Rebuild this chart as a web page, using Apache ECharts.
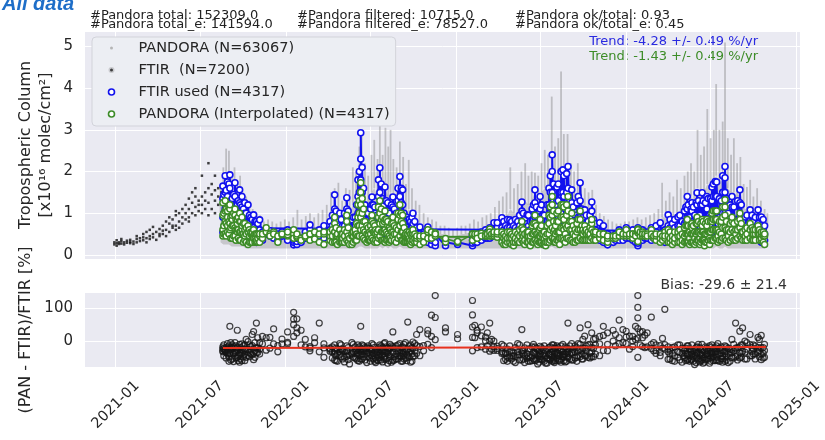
<!DOCTYPE html>
<html><head><meta charset="utf-8">
<script src="https://cdn.jsdelivr.net/npm/echarts@6/dist/echarts.min.js"></script>
<style>html,body{margin:0;padding:0;background:#fff}#c{width:825px;height:440px}</style>
</head><body><div id="c"></div>
<script>
// ---------------- DATA ----------------
const xTickLabels = ['2021-01','2021-07','2022-01','2022-07','2023-01','2023-07','2024-01','2024-07','2025-01'];
const yTicksTop = [0,1,2,3,4,5];
const yTicksBottom = [0,100];

// FTIR (all retrievals, black dots) before the Pandora period
const ftirDates = ['2020-12-29','2020-12-29','2021-01-03','2021-01-03','2021-01-03','2021-01-08','2021-01-08','2021-01-13','2021-01-13','2021-01-13','2021-01-19','2021-01-19','2021-01-25','2021-01-25','2021-02-01','2021-02-01','2021-02-01','2021-02-08','2021-02-08','2021-02-15','2021-02-15','2021-02-15','2021-02-22','2021-02-22','2021-03-01','2021-03-01','2021-03-01','2021-03-08','2021-03-08','2021-03-08','2021-03-15','2021-03-15','2021-03-15','2021-03-22','2021-03-22','2021-03-22','2021-03-29','2021-03-29','2021-04-05','2021-04-05','2021-04-05','2021-04-12','2021-04-12','2021-04-12','2021-04-19','2021-04-19','2021-04-19','2021-04-26','2021-04-26','2021-04-26','2021-05-03','2021-05-03','2021-05-03','2021-05-10','2021-05-10','2021-05-10','2021-05-10','2021-05-17','2021-05-17','2021-05-17','2021-05-24','2021-05-24','2021-05-24','2021-05-31','2021-05-31','2021-05-31','2021-06-07','2021-06-07','2021-06-07','2021-06-07','2021-06-14','2021-06-14','2021-06-14','2021-06-21','2021-06-21','2021-06-21','2021-06-21','2021-06-28','2021-06-28','2021-06-28','2021-07-05','2021-07-05','2021-07-05','2021-07-05','2021-07-12','2021-07-12','2021-07-12','2021-07-19','2021-07-19','2021-07-19','2021-07-19','2021-07-26','2021-07-26','2021-07-26','2021-08-02','2021-08-02','2021-08-02','2021-08-02','2021-08-09','2021-08-09','2021-08-09','2021-08-16','2021-08-16'];
const ftirVals = [0.25,0.3,0.28,0.35,0.22,0.3,0.26,0.33,0.27,0.38,0.3,0.25,0.34,0.29,0.28,0.36,0.31,0.32,0.26,0.38,0.3,0.45,0.33,0.4,0.35,0.5,0.42,0.4,0.3,0.55,0.45,0.6,0.38,0.5,0.67,0.42,0.36,0.55,0.45,0.62,0.5,0.5,0.7,0.58,0.6,0.8,0.45,0.55,0.75,0.9,0.65,0.85,0.7,0.7,0.95,0.6,1.05,0.8,0.65,1.0,0.75,0.9,1.1,0.85,1.2,1.0,0.9,1.1,1.35,0.8,1.0,1.25,1.5,0.95,1.15,1.4,1.6,1.05,1.3,1.2,1.0,1.4,1.9,1.2,1.1,1.3,1.5,0.95,1.25,2.2,1.6,1.1,1.45,1.7,1.0,1.3,1.55,1.9,1.2,1.4,1.6,1.0,1.5];

// PANDORA (all measurements) envelope: low, dense upper part, extreme high
const pandoraDates = ['2021-08-14','2021-08-20','2021-08-26','2021-09-01','2021-09-07','2021-09-13','2021-09-19','2021-09-25','2021-10-01','2021-10-08','2021-10-15','2021-10-22','2021-10-30','2021-11-07','2021-11-15','2021-11-24','2021-12-03','2021-12-12','2021-12-21','2021-12-30','2022-01-08','2022-01-17','2022-01-26','2022-02-04','2022-02-13','2022-02-22','2022-03-03','2022-03-12','2022-03-21','2022-03-30','2022-04-08','2022-04-16','2022-04-24','2022-05-02','2022-05-10','2022-05-18','2022-05-25','2022-06-01','2022-06-08','2022-06-13','2022-06-20','2022-06-27','2022-07-04','2022-07-10','2022-07-17','2022-07-22','2022-07-28','2022-08-03','2022-08-09','2022-08-14','2022-08-20','2022-08-27','2022-09-03','2022-09-10','2022-09-16','2022-09-22','2022-09-29','2022-10-07','2022-10-15','2022-10-24','2022-11-02','2022-11-11','2022-11-20','2022-11-29','2022-12-08','2022-12-17','2022-12-26','2023-01-04','2023-01-13','2023-01-22','2023-01-31','2023-02-09','2023-02-18','2023-02-27','2023-03-08','2023-03-17','2023-03-26','2023-04-04','2023-04-12','2023-04-20','2023-04-28','2023-05-06','2023-05-14','2023-05-22','2023-05-30','2023-06-06','2023-06-13','2023-06-20','2023-06-27','2023-07-04','2023-07-11','2023-07-18','2023-07-26','2023-08-02','2023-08-09','2023-08-15','2023-08-21','2023-08-29','2023-09-05','2023-09-12','2023-09-20','2023-09-27','2023-10-05','2023-10-13','2023-10-21','2023-10-29','2023-11-06','2023-11-15','2023-11-24','2023-12-03','2023-12-12','2023-12-21','2023-12-30','2024-01-08','2024-01-17','2024-01-26','2024-02-04','2024-02-13','2024-02-22','2024-03-02','2024-03-11','2024-03-19','2024-03-27','2024-04-04','2024-04-12','2024-04-20','2024-04-28','2024-05-06','2024-05-13','2024-05-20','2024-05-27','2024-06-03','2024-06-10','2024-06-17','2024-06-24','2024-07-01','2024-07-08','2024-07-13','2024-07-20','2024-07-27','2024-08-01','2024-08-07','2024-08-14','2024-08-20','2024-08-27','2024-09-03','2024-09-10','2024-09-17','2024-09-24','2024-10-01','2024-10-09','2024-10-17','2024-10-25','2024-10-31'];
const pandoraLow = [0.3,0.25,0.25,0.25,0.2,0.2,0.2,0.2,0.2,0.15,0.15,0.15,0.15,0.15,0.15,0.15,0.15,0.15,0.15,0.15,0.15,0.15,0.15,0.15,0.15,0.15,0.15,0.15,0.15,0.15,0.15,0.15,0.15,0.15,0.15,0.15,0.15,0.15,0.2,0.2,0.15,0.15,0.15,0.15,0.15,0.2,0.15,0.2,0.15,0.2,0.15,0.15,0.2,0.15,0.15,0.15,0.15,0.15,0.15,0.15,0.15,0.15,0.15,0.15,0.15,0.15,0.15,0.15,0.15,0.15,0.15,0.15,0.15,0.15,0.15,0.15,0.15,0.15,0.15,0.15,0.15,0.15,0.15,0.15,0.15,0.15,0.15,0.15,0.15,0.15,0.15,0.15,0.2,0.15,0.15,0.2,0.15,0.15,0.15,0.15,0.15,0.15,0.15,0.15,0.15,0.15,0.15,0.15,0.15,0.15,0.15,0.15,0.15,0.15,0.15,0.15,0.15,0.15,0.15,0.15,0.15,0.15,0.15,0.15,0.15,0.15,0.15,0.15,0.15,0.15,0.15,0.15,0.15,0.15,0.2,0.15,0.15,0.2,0.15,0.15,0.2,0.15,0.15,0.15,0.15,0.15,0.15,0.15,0.15,0.15,0.15,0.15,0.15,0.2];
const pandoraCore = [1.0,1.4,1.6,1.7,1.3,1.5,1.1,1.3,1.1,1.0,0.9,0.8,0.7,0.7,0.6,0.6,0.6,0.55,0.6,0.6,0.6,0.65,0.7,0.6,0.65,0.7,0.65,0.7,0.75,0.8,1.0,1.1,1.1,0.9,1.1,1.0,1.2,1.3,1.8,2.0,1.3,1.2,1.5,1.6,1.4,1.7,1.4,1.6,1.4,1.5,1.3,1.3,1.5,1.4,1.0,1.1,1.0,0.8,0.75,0.65,0.6,0.55,0.55,0.5,0.5,0.45,0.45,0.45,0.5,0.5,0.55,0.6,0.6,0.65,0.65,0.7,0.8,0.85,0.9,0.9,1.1,1.0,1.0,1.2,1.3,1.2,1.3,1.5,1.3,1.5,1.6,1.6,2.0,1.6,1.7,2.0,1.8,1.8,1.6,1.4,1.4,1.4,1.1,1.0,1.1,0.85,0.75,0.7,0.6,0.55,0.55,0.55,0.55,0.6,0.6,0.65,0.6,0.65,0.7,0.7,0.75,0.9,0.9,1.0,0.95,1.0,1.0,1.2,1.4,1.4,1.3,1.6,1.5,1.5,1.7,1.6,1.7,1.9,1.7,1.8,2.1,1.6,1.5,1.5,1.4,1.5,1.1,1.1,1.2,1.0,1.1,0.9,0.8,0.7];
const pandoraHigh = [1.6,2.1,2.55,2.5,2.0,2.1,1.7,1.9,1.5,1.4,1.3,1.1,1.0,0.95,0.8,0.85,0.8,0.75,0.8,0.85,0.8,0.9,1.08,0.85,0.93,1.0,0.9,1.0,1.08,1.2,1.5,1.6,1.73,1.3,1.6,1.56,2.1,2.0,2.6,3.0,2.2,1.9,2.4,2.76,2.3,3.25,2.4,3.05,2.6,3.0,2.3,2.1,2.72,2.35,1.7,2.28,1.6,1.3,1.2,1.0,0.9,0.85,0.8,0.7,0.7,0.65,0.6,0.65,0.7,0.7,0.75,0.85,0.8,0.9,0.95,1.0,1.15,1.3,1.4,1.5,2.1,1.6,1.7,2.0,2.2,1.9,2.0,1.97,1.9,2.2,2.52,2.4,3.8,2.6,2.8,4.4,2.9,2.9,2.2,2.0,2.2,1.8,1.6,1.5,1.56,1.2,1.0,0.93,0.85,0.8,0.75,0.75,0.8,0.8,0.85,0.9,0.85,0.9,0.95,1.0,1.1,1.73,1.3,1.5,1.4,1.8,1.6,1.9,2.0,2.2,2.0,3.0,2.4,2.6,3.5,2.8,3.0,4.1,3.0,3.2,5.1,2.8,2.4,2.8,2.2,2.35,1.7,1.63,1.8,1.4,1.6,1.3,1.1,1.0];

// FTIR used / PANDORA interpolated / relative difference, per observation day
const usedDates = ['2021-08-19','2021-08-24','2021-08-29','2021-09-03','2021-09-08','2021-09-14','2021-09-19','2021-09-24','2021-09-29','2021-10-05','2021-10-12','2021-10-18','2021-10-24','2021-10-30','2021-11-06','2021-11-12','2021-11-20','2021-11-28','2021-12-06','2021-12-15','2021-12-24','2022-01-05','2022-01-18','2022-01-25','2022-02-03','2022-02-12','2022-02-22','2022-03-04','2022-03-14','2022-03-24','2022-04-06','2022-04-16','2022-04-22','2022-04-27','2022-05-03','2022-05-12','2022-05-18','2022-05-23','2022-05-30','2022-06-05','2022-06-11','2022-06-17','2022-06-24','2022-06-30','2022-07-05','2022-07-11','2022-07-16','2022-07-22','2022-07-28','2022-08-02','2022-08-08','2022-08-13','2022-08-19','2022-08-26','2022-09-03','2022-09-09','2022-09-15','2022-09-20','2022-09-26','2022-10-01','2022-10-09','2022-10-16','2022-10-24','2022-11-02','2022-11-10','2022-11-18','2022-12-10','2023-01-05','2023-02-06','2023-02-16','2023-02-25','2023-03-06','2023-03-15','2023-03-24','2023-03-31','2023-04-10','2023-04-18','2023-04-27','2023-05-05','2023-05-14','2023-05-23','2023-05-29','2023-06-03','2023-06-10','2023-06-20','2023-06-26','2023-07-01','2023-07-07','2023-07-13','2023-07-20','2023-07-27','2023-08-01','2023-08-06','2023-08-12','2023-08-19','2023-08-24','2023-08-30','2023-09-07','2023-09-14','2023-09-25','2023-10-01','2023-10-05','2023-10-12','2023-10-20','2023-10-28','2023-11-06','2023-11-14','2023-11-23','2023-12-05','2023-12-18','2024-01-02','2024-01-16','2024-01-27','2024-02-06','2024-02-16','2024-02-25','2024-03-06','2024-03-15','2024-03-25','2024-04-01','2024-04-10','2024-04-22','2024-05-01','2024-05-12','2024-05-17','2024-05-22','2024-05-28','2024-06-02','2024-06-08','2024-06-13','2024-06-18','2024-06-23','2024-06-29','2024-07-04','2024-07-11','2024-07-17','2024-07-24','2024-08-01','2024-08-08','2024-08-16','2024-08-24','2024-09-02','2024-09-08','2024-09-13','2024-09-24','2024-10-01','2024-10-11','2024-10-18','2024-10-25'];
const ftirUsed = [[0.55,0.9,1.35,1.65],[0.7,1.1,1.5,1.9],[0.6,0.95,1.4,1.75],[0.75,1.2,1.6,1.92],[0.5,0.8,1.1,1.35],[0.65,1.0,1.4,1.73],[0.45,0.7,0.95,1.2],[0.6,0.95,1.25,1.56],[0.55,0.85,1.15,1.4],[0.4,0.7,1.0,1.25],[0.45,0.75,1.2],[0.4,0.6,0.9],[0.35,0.65,0.96],[0.3,0.55,0.8],[0.4,0.6,0.84],[0.35,0.55],[0.5,0.6],[0.45,0.58],[0.4,0.55],[0.35,0.5],[0.45,0.55],[0.35,0.5,0.6],[0.24,0.3,0.35,0.4],[0.25,0.32,0.4],[0.3,0.4],[0.4,0.55],[0.45,0.6,0.72],[0.4,0.5],[0.45,0.6],[0.4,0.55,0.7],[0.45,0.6,0.8],[0.5,0.8,1.1,1.44],[0.4,0.6,0.8],[0.45,0.7,1.0],[0.4,0.55,0.7],[0.5,0.8,1.1,1.37],[0.45,0.65],[0.4,0.6,0.84],[0.5,0.7,0.9],[0.6,1.0,1.4,1.8],[0.8,1.3,1.8,2.3,2.93],[0.55,0.85,1.2,1.6],[0.5,0.8,1.08],[0.45,0.65,0.85],[0.55,0.9,1.2,1.39],[0.5,0.8,1.15],[0.45,0.7,0.95],[0.6,1.0,1.5,2.09],[0.5,0.8,1.1,1.35],[0.55,0.9,1.3,1.63],[0.5,0.8,1.05,1.25],[0.45,0.65,0.85],[0.55,0.85,1.15,1.39],[0.5,0.75,1.0],[0.6,0.95,1.4,1.88],[0.5,0.85,1.2,1.56],[0.45,0.65,0.85],[0.4,0.6,0.84],[0.35,0.55,0.8],[0.45,0.75,1.0],[0.35,0.5,0.65],[0.3,0.5,0.67],[0.35,0.5],[0.3,0.45,0.67],[0.25,0.35,0.5],[0.22,0.3,0.48],[0.22,0.3],[0.25,0.3],[0.22,0.28,0.35,0.45,0.5],[0.3,0.4,0.5],[0.35,0.45,0.55],[0.4,0.5,0.6],[0.4,0.55,0.65],[0.45,0.6,0.77],[0.5,0.65,0.77],[0.45,0.65,0.89],[0.4,0.55,0.7],[0.45,0.65,0.84],[0.4,0.55,0.7],[0.45,0.6,0.8],[0.5,0.8,1.05,1.27],[0.45,0.65,0.85],[0.5,0.75,0.96],[0.45,0.6,0.8],[0.55,0.9,1.25,1.56],[0.45,0.65,0.9],[0.5,0.8,1.1,1.4],[0.45,0.7,0.96],[0.4,0.6,0.8],[0.5,0.8,1.2,1.6],[0.6,1.0,1.5,2.0,2.4],[0.5,0.75,1.0],[0.55,0.9,1.3,1.63],[0.45,0.7,0.95],[0.6,1.0,1.5,2.04],[0.5,0.8,1.1],[0.6,1.0,1.6,2.12],[0.55,0.9,1.25,1.56],[0.45,0.7,0.95],[0.55,0.9,1.3,1.73],[0.45,0.7,0.9],[0.45,0.75,1.08],[0.4,0.6,0.8],[0.5,0.8,1.05,1.27],[0.4,0.6,0.75],[0.35,0.55,0.77],[0.3,0.45,0.7],[0.24,0.35,0.5],[0.3,0.45],[0.35,0.5,0.6],[0.4,0.5,0.65],[0.35,0.5,0.6],[0.22,0.28,0.35,0.45,0.55,0.65],[0.35,0.5,0.6],[0.4,0.55],[0.35,0.5,0.65],[0.4,0.55,0.7],[0.35,0.5,0.77],[0.3,0.45,0.6],[0.45,0.7,0.96],[0.4,0.55,0.75],[0.45,0.7,0.91],[0.4,0.6,0.8],[0.5,0.8,1.1,1.4],[0.45,0.65,0.9],[0.5,0.8,1.05,1.25],[0.45,0.7,0.95],[0.55,0.85,1.2,1.49],[0.45,0.7,0.95],[0.55,0.85,1.2,1.49],[0.45,0.65,0.85],[0.5,0.8,1.1,1.4],[0.45,0.7,0.95],[0.55,0.9,1.3,1.63],[0.6,0.95,1.4,1.76],[0.5,0.75,1.0],[0.5,0.8,1.1,1.3],[0.6,1.0,1.5,1.85,2.12],[0.5,0.75,1.0],[0.55,0.85,1.15,1.4],[0.45,0.65,0.85],[0.55,0.9,1.25,1.56],[0.4,0.6,0.8],[0.35,0.6,0.91],[0.45,0.75,1.08],[0.4,0.6,0.8],[0.45,0.75,1.08],[0.3,0.5,0.7,0.91],[0.35,0.5,0.7]];
const pandoraInterp = [[0.45,0.6,0.95,1.25],[0.5,0.8,1.05,1.3],[0.55,0.7,0.9,1.05],[0.6,0.75,1.1,1.2],[0.4,0.7,0.85,0.95],[0.45,0.65,0.95,1.1],[0.6,0.55,0.75,0.85],[0.35,0.55,0.8,1.0],[0.5,0.62,0.7,0.9],[0.35,0.45,0.6,0.75],[0.25,0.55,0.7],[0.3,0.5,0.55],[0.45,0.4,0.6],[0.3,0.35,0.5],[0.3,0.45,0.5],[0.4,0.5],[0.55,0.65],[0.5,0.45],[0.55,0.5],[0.3,0.45],[0.48,0.5],[0.45,0.48,0.55],[0.45,0.5,0.4,0.6],[0.42,0.45,0.5],[0.4,0.35],[0.42,0.45],[0.35,0.5,0.5],[0.38,0.55],[0.3,0.5],[0.25,0.5,0.55],[0.35,0.45,0.55],[0.3,0.55,0.75,0.9],[0.25,0.45,0.5],[0.3,0.4,0.6],[0.3,0.4,0.5],[0.35,0.55,0.8,0.95],[0.25,0.4],[0.25,0.45,0.5],[0.35,0.5,0.6],[0.45,0.7,0.9,1.2],[0.6,0.9,1.2,1.5,1.73],[0.4,0.6,0.8,1.1],[0.3,0.5,0.7],[0.35,0.4,0.55],[0.4,0.6,0.8,0.95],[0.3,0.55,0.7],[0.3,0.45,0.55],[0.45,0.75,1.0,1.3],[0.35,0.55,0.75,0.9],[0.3,0.6,0.85,1.05],[0.35,0.5,0.7,0.8],[0.35,0.4,0.6],[0.45,0.55,0.75,0.9],[0.3,0.5,0.65],[0.45,0.7,0.95,1.2],[0.35,0.55,0.75,0.95],[0.3,0.45,0.5],[0.3,0.45,0.5],[0.25,0.35,0.5],[0.35,0.5,0.6],[0.3,0.4,0.45],[0.25,0.4,0.45],[0.3,0.45],[0.4,0.55,0.6],[0.45,0.4,0.55],[0.53,0.45,0.5],[0.31,0.39],[0.3,0.32],[0.49,0.5,0.5,0.5,0.35],[0.4,0.5,0.4],[0.5,0.52,0.45],[0.45,0.5,0.45],[0.62,0.55,0.45],[0.45,0.5,0.55],[0.42,0.5,0.55],[0.3,0.45,0.55],[0.25,0.35,0.45],[0.3,0.4,0.55],[0.22,0.3,0.45],[0.3,0.35,0.5],[0.35,0.5,0.65,0.8],[0.25,0.35,0.5],[0.3,0.45,0.55],[0.22,0.35,0.45],[0.35,0.55,0.75,0.95],[0.25,0.35,0.5],[0.3,0.45,0.65,0.85],[0.25,0.4,0.5],[0.22,0.3,0.45],[0.3,0.5,0.75,0.95],[0.4,0.65,0.95,1.2,1.4],[0.3,0.4,0.6],[0.35,0.55,0.8,1.0],[0.25,0.4,0.55],[0.4,0.65,0.9,1.2],[0.3,0.5,0.7],[0.4,0.7,1.05,1.4],[0.35,0.6,0.8,1.0],[0.3,0.45,0.6],[0.4,0.6,0.85,1.05],[0.35,0.5,0.6],[0.35,0.55,0.7],[0.35,0.5,0.55],[0.4,0.6,0.75,0.85],[0.35,0.5,0.55],[0.4,0.5,0.5],[0.35,0.5,0.5],[0.3,0.4,0.45],[0.4,0.45],[0.45,0.55,0.55],[0.45,0.5,0.6],[0.4,0.5,0.5],[0.53,0.57,0.6,0.62,0.6,0.32],[0.45,0.55,0.5],[0.5,0.45],[0.6,0.45,0.5],[0.35,0.45,0.5],[0.3,0.4,0.5],[0.55,0.4,0.45],[0.3,0.45,0.6],[0.25,0.35,0.45],[0.3,0.45,0.55],[0.25,0.35,0.5],[0.3,0.5,0.7,0.85],[0.25,0.4,0.55],[0.3,0.5,0.65,0.75],[0.25,0.4,0.55],[0.35,0.55,0.75,0.9],[0.25,0.4,0.55],[0.35,0.55,0.7,0.85],[0.22,0.35,0.5],[0.3,0.5,0.7,0.85],[0.25,0.4,0.55],[0.35,0.6,0.8,1.0],[0.4,0.6,0.85,1.05],[0.3,0.45,0.6],[0.35,0.5,0.7,0.8],[0.4,0.65,0.95,1.15,1.32],[0.3,0.45,0.6],[0.4,0.6,0.8,0.9],[0.35,0.5,0.6],[0.45,0.65,0.85,1.0],[0.35,0.5,0.55],[0.35,0.45,0.6],[0.4,0.6,0.75],[0.35,0.5,0.6],[0.5,0.6,0.7],[0.35,0.4,0.5,0.55],[0.25,0.45,0.5]];
const relDiff = [[-18,-33,-30,-24],[-29,-27,-30,-32],[-8,-26,-36,-40],[-20,-38,45,-38],[-20,-12,-23,-55],[-31,-35,-5,-36],[33,-21,-50,-29],[-42,-65,-36,-10],[-9,-27,-60,-36],[-12,-60,-40,-25],[-44,-27,-2],[-25,-17,-39],[29,-38,-57],[55,-36,-20],[-25,-5,-40],[14,-9],[10,-28],[11,-22],[37,-9],[-14,-33],[6,-9],[28,-4,-8],[88,67,14,50],[68,40,25],[33,-12],[5,-18],[-22,-17,-30],[-5,10],[-33,55],[-50,-9,-21],[-22,-25,-31],[-40,-31,-12,-58],[-38,-25,-62],[-33,-43,-8],[-25,-55,-29],[-30,-15,-47,-31],[-44,-70],[-38,-5,-40],[-30,-52,-18],[-25,-60,-36,-12],[-25,45,-33,-55,-41],[-27,-48,-15,-31],[-40,-66,-20],[-22,-38,-52],[-27,-8,-45,-32],[-40,-62,-19],[-33,-58,-42],[-25,-12,-50,-38],[-30,-64,-20,-43],[-45,-33,-5,-56],[-30,-68,-22,-36],[-22,-48,-10],[28,-35,-60,-18],[-40,-15,-55],[-25,-46,-8,-36],[-30,-62,-18,-39],[-33,-5,-52],[-25,58,-45],[-29,-65,-12],[-22,-48,-3],[-14,-38,20],[-17,-45,35],[-14,-30],[33,22,-10],[79,14,-20],[139,72,4],[40,28],[20,7],[124,80,43,11,-30],[33,25,-20],[43,16,-18],[12,0,-25],[55,0,-31],[0,-17,-29],[-16,-23,-29],[-33,-10,-38],[-38,-56,-36],[-33,-15,-52],[-45,-62,-36],[-33,-42,-8],[-30,-58,35,-37],[-44,-66,-21],[-40,-12,-53],[-51,-62,-24],[-36,-60,-18,-39],[-44,-70,-27],[-40,-55,-16,-39],[-44,-25,-58],[-45,-68,-30],[-40,-20,-55,-41],[-33,-50,-12,-62,-42],[-40,-66,-22],[-36,-15,-52,-39],[-44,-60,-28],[-33,-48,-10,-41],[-40,-64,-18],[-33,55,-50,-25],[-36,-58,-8,-36],[-33,-52,-15],[-27,40,-48,-10],[-22,-55,5],[-22,-45,15],[-12,50,-50],[-20,-48,25,-33],[-12,-40,8],[14,-9,-45],[17,45,-29],[25,-30,-10],[33,0],[64,10,-8],[12,30,-8],[14,0,-17],[139,103,71,38,9,-50],[29,10,-17],[25,-18],[73,-10,-23],[-12,-38,-29],[-14,-45,-35],[97,-11,-25],[-33,-56,-18],[-38,-60,-20],[-33,-12,-50],[-38,-65,-22],[-40,-58,-15,-39],[-44,-25,-62],[-40,-55,-12,-40],[-44,-72,-28],[-36,-52,-18,-40],[-44,-64,-20],[-36,-10,-58,-43],[-51,-65,-30],[-40,-22,-56,-39],[-44,-68,-15],[-36,-50,-12,-39],[-33,-60,-20,-40],[-40,-60,-8],[-30,-54,-18,-38],[-33,-62,-15,-48,-38],[-40,-66,-22],[-27,5,-50,-36],[-22,55,-48],[-18,30,-52,-36],[-12,40,-31],[0,-55,-34],[-11,20,-45],[-12,-40,-25],[11,-20,-35],[17,-20,-57,-40],[-29,-10,-50]];

// additional observation days (same layout as above)
const extraDates = ['2021-08-21','2021-08-26','2021-09-01','2021-09-05','2021-09-11','2021-09-16','2021-09-21','2021-09-26','2021-10-02','2021-10-08','2021-10-15','2021-10-21','2021-10-27','2021-11-02','2022-04-11','2022-04-19','2022-04-30','2022-05-07','2022-05-15','2022-05-26','2022-06-02','2022-06-08','2022-06-14','2022-06-20','2022-06-27','2022-07-02','2022-07-08','2022-07-13','2022-07-19','2022-07-25','2022-07-31','2022-08-05','2022-08-11','2022-08-16','2022-08-22','2022-08-30','2022-09-06','2022-09-12','2022-09-18','2022-09-23','2022-09-29','2022-10-05','2023-04-14','2023-04-22','2023-05-01','2023-05-09','2023-05-18','2023-05-26','2023-06-06','2023-06-14','2023-06-17','2023-06-23','2023-06-29','2023-07-04','2023-07-10','2023-07-16','2023-07-23','2023-07-30','2023-08-03','2023-08-09','2023-08-15','2023-08-21','2023-08-27','2023-09-03','2023-09-10','2023-09-18','2023-09-21','2023-09-29','2023-10-08','2023-10-16','2023-10-24','2024-04-05','2024-04-15','2024-04-26','2024-05-06','2024-05-09','2024-05-14','2024-05-20','2024-05-25','2024-05-31','2024-06-05','2024-06-10','2024-06-15','2024-06-20','2024-06-26','2024-07-01','2024-07-07','2024-07-14','2024-07-20','2024-07-27','2024-08-04','2024-08-12','2024-08-20','2024-08-28','2024-09-05','2024-09-17','2024-09-28','2024-10-05','2024-10-14','2024-10-22','2023-12-10','2023-12-26','2024-01-09','2024-01-22','2024-02-01','2024-02-11','2024-03-01','2024-03-20','2023-02-11','2023-03-10','2023-03-19'];
const extraFtir = [[0.65,1.0,1.45],[0.6,1.05,1.55],[0.7,1.15,1.7],[0.55,0.9,1.3],[0.6,0.95,1.45],[0.5,0.8,1.2],[0.55,0.85,1.3],[0.5,0.8,1.2],[0.45,0.75,1.1],[0.4,0.7,1.0],[0.4,0.65,0.95],[0.35,0.6,0.85],[0.35,0.55,0.8],[0.35,0.55,0.75],[0.45,0.7,0.95],[0.45,0.7,1.05],[0.4,0.6,0.85],[0.45,0.7,1.0],[0.45,0.7,1.05],[0.45,0.65,0.9],[0.5,0.8,1.2],[0.6,1.0,1.5,2.0],[0.6,1.0,1.5,2.1],[0.5,0.8,1.2],[0.5,0.75,1.0],[0.5,0.8,1.1],[0.5,0.8,1.2],[0.5,0.75,1.0],[0.55,0.9,1.4,1.8],[0.5,0.85,1.3,1.7],[0.5,0.8,1.2],[0.5,0.85,1.3],[0.45,0.7,1.0],[0.5,0.8,1.2],[0.5,0.8,1.1],[0.55,0.9,1.3,1.6],[0.5,0.85,1.25,1.6],[0.45,0.7,1.0],[0.45,0.65,0.9],[0.4,0.6,0.85],[0.4,0.65,0.9],[0.4,0.6,0.8],[0.4,0.6,0.8],[0.45,0.65,0.85],[0.4,0.6,0.8],[0.45,0.65,0.85],[0.45,0.7,0.95],[0.45,0.7,1.0],[0.45,0.7,0.95],[0.5,0.8,1.1],[0.5,0.85,1.2],[0.5,0.8,1.15],[0.5,0.75,1.05],[0.5,0.8,1.2],[0.45,0.7,0.95],[0.5,0.8,1.2],[0.6,1.0,1.5,1.9],[0.55,0.9,1.3,1.7],[0.5,0.8,1.2],[0.55,0.9,1.3,1.7],[0.6,1.0,1.5,2.0],[0.55,0.9,1.4,1.9],[0.6,1.0,1.5,1.95],[0.55,0.9,1.3],[0.5,0.8,1.15],[0.5,0.85,1.25],[0.55,0.9,1.4],[0.5,0.8,1.1],[0.45,0.7,0.95],[0.45,0.7,0.95],[0.4,0.65,0.85],[0.45,0.65,0.85],[0.45,0.65,0.85],[0.45,0.7,0.95],[0.5,0.75,1.05],[0.5,0.8,1.15],[0.5,0.8,1.2],[0.5,0.8,1.1],[0.5,0.8,1.15],[0.5,0.85,1.25],[0.55,0.85,1.3],[0.5,0.8,1.2],[0.55,0.85,1.3],[0.5,0.8,1.25],[0.55,0.9,1.35],[0.55,0.9,1.35],[0.55,0.9,1.4,1.7],[0.6,0.95,1.4,1.75],[0.55,0.9,1.35],[0.6,1.0,1.5,1.9],[0.55,0.9,1.35],[0.5,0.8,1.2],[0.5,0.8,1.15],[0.5,0.85,1.3],[0.5,0.8,1.2],[0.45,0.7,0.95],[0.45,0.7,0.95],[0.4,0.65,0.9],[0.4,0.65,0.9],[0.35,0.6,0.85],[0.35,0.5],[0.35,0.5],[0.4,0.55],[0.3,0.45],[0.35,0.5],[0.4,0.55],[0.4,0.55],[0.35,0.5],[0.3,0.45],[0.4,0.55],[0.45,0.6]];
const extraInterp = [[0.5,0.7,1.0],[0.45,0.75,1.1],[0.5,0.8,1.15],[0.4,0.65,0.9],[0.45,0.7,1.0],[0.35,0.6,0.85],[0.4,0.6,0.9],[0.35,0.55,0.8],[0.3,0.5,0.75],[0.3,0.5,0.65],[0.3,0.45,0.6],[0.3,0.45,0.55],[0.3,0.4,0.5],[0.3,0.4,0.5],[0.3,0.45,0.6],[0.3,0.45,0.65],[0.3,0.4,0.5],[0.3,0.45,0.6],[0.3,0.45,0.65],[0.3,0.45,0.55],[0.35,0.5,0.75],[0.45,0.7,1.0,1.3],[0.45,0.7,1.0,1.35],[0.35,0.55,0.8],[0.35,0.5,0.65],[0.35,0.5,0.7],[0.35,0.55,0.75],[0.35,0.5,0.6],[0.4,0.6,0.9,1.15],[0.35,0.55,0.85,1.1],[0.35,0.55,0.8],[0.35,0.55,0.85],[0.3,0.45,0.65],[0.35,0.55,0.75],[0.35,0.5,0.7],[0.4,0.6,0.85,1.0],[0.35,0.55,0.8,1.0],[0.3,0.45,0.65],[0.3,0.45,0.55],[0.3,0.4,0.55],[0.3,0.45,0.55],[0.3,0.4,0.5],[0.25,0.4,0.5],[0.3,0.4,0.55],[0.25,0.4,0.5],[0.3,0.4,0.55],[0.3,0.45,0.6],[0.3,0.45,0.6],[0.3,0.45,0.55],[0.3,0.5,0.7],[0.3,0.5,0.75],[0.3,0.5,0.7],[0.3,0.45,0.6],[0.3,0.5,0.7],[0.25,0.4,0.55],[0.3,0.5,0.7],[0.35,0.6,0.9,1.15],[0.35,0.55,0.8,1.05],[0.3,0.5,0.7],[0.35,0.55,0.8,1.05],[0.4,0.65,0.9,1.2],[0.35,0.6,0.85,1.15],[0.4,0.65,0.95,1.2],[0.35,0.6,0.8],[0.3,0.5,0.7],[0.35,0.55,0.75],[0.35,0.6,0.85],[0.35,0.55,0.7],[0.35,0.5,0.6],[0.35,0.5,0.65],[0.35,0.5,0.55],[0.3,0.4,0.55],[0.3,0.4,0.55],[0.3,0.45,0.6],[0.3,0.45,0.65],[0.3,0.5,0.7],[0.3,0.5,0.7],[0.3,0.5,0.7],[0.3,0.5,0.7],[0.3,0.5,0.75],[0.35,0.55,0.8],[0.3,0.5,0.75],[0.35,0.55,0.8],[0.3,0.5,0.75],[0.35,0.55,0.8],[0.35,0.55,0.8],[0.35,0.6,0.85,1.05],[0.4,0.6,0.85,1.05],[0.35,0.55,0.8],[0.4,0.65,0.9,1.15],[0.35,0.6,0.8],[0.35,0.55,0.75],[0.35,0.55,0.75],[0.4,0.6,0.8],[0.4,0.55,0.75],[0.35,0.5,0.65],[0.35,0.5,0.65],[0.35,0.5,0.6],[0.35,0.5,0.6],[0.3,0.45,0.55],[0.4,0.45],[0.45,0.5],[0.45,0.5],[0.5,0.45],[0.45,0.55],[0.45,0.5],[0.4,0.45],[0.35,0.45],[0.45,0.5],[0.45,0.5],[0.45,0.5]];
const extraRel = [[-23,-45,-12],[-35,-52,-20],[-15,-48,-62],[-27,-58,-5],[-40,-18,-63],[-30,-52,-15],[-45,-28,-60],[-20,-55,-38],[-48,-30,-15],[-25,-50,5],[-35,-12,-48],[-14,-42,20],[-30,-5,-50],[-22,10,-35],[-33,-52,-18],[-45,-22,-60],[-25,-48,-12],[-50,-30,-64],[-20,-42,-57],[-35,-10,-50],[-28,-55,-40],[-18,-45,-62,-30],[-40,-25,-55,-12],[-30,-58,-20],[-48,-15,-35],[-25,-62,-42],[-38,-12,-55],[-52,-28,-66],[-20,-45,-35,-60],[-42,-15,-58,-30],[-28,-50,-8],[-55,-35,-18],[-25,-60,-42],[-38,-15,-65],[-48,-22,-58],[-30,-55,-12,-45],[-20,-48,-62,-35],[-42,-10,-55],[-28,-60,-40],[-15,-50,-35],[-40,-20,-62],[-8,-45,-30],[-38,-60,-15],[-50,-25,-62],[-30,-55,-45],[-20,-48,-66],[-42,-12,-58],[-55,-30,-40],[-25,-62,-48],[-45,-18,-60],[-35,-55,-10],[-58,-40,-22],[-30,-65,-45],[-48,-20,-56],[-62,-38,-15],[-25,-52,-68],[-40,-58,-18,-45],[-55,-30,-62,-12],[-35,-60,-22],[-45,-20,-58,-38],[-30,-55,-65,-15],[-50,-28,-60,-42],[-22,-48,-35,-62],[-40,-15,-55],[-58,-35,-25],[-20,-50,-62],[-45,-30,-8],[-28,-55,-40],[-15,-45,-30],[-38,-10,-52],[-22,-48,5],[-28,-55,-40],[-45,-18,-62],[-35,-58,-12],[-52,-30,-45],[-22,-60,-38],[-40,-15,-55],[-58,-35,-25],[-30,-62,-48],[-45,-20,-66],[-35,-55,-10],[-60,-40,-25],[-28,-52,-68],[-42,-18,-58],[-55,-30,-45],[-20,-62,-38],[-48,-25,-60,-35],[-32,-58,-15,-50],[-62,-40,-22],[-28,-55,-45,-65],[-45,-18,-58],[-35,-62,-25],[-52,-30,-10],[-20,-45,-58],[-38,-12,-50],[-25,-55,-5],[-45,-20,-32],[-15,-40,-55],[-30,5,-48],[-20,-52,-38],[20,-15],[35,-5],[15,-25],[45,5],[28,-12],[18,-20],[-5,-30],[8,-22],[48,10],[25,-15],[5,-25]];

// fitted lines (start / end)
const trendDates = ['2021-08-19','2024-10-28'];
const ftirTrend = [0.645, 0.558];
const pandoraTrend = [0.44, 0.425];
const biasTrend = [-21, -18];

// ---------------- CHART ----------------
function ts(s){const p=s.split('-').map(Number);return Date.UTC(p[0],p[1]-1,p[2]||1);}
const xMin = ts('2020-10-27'), xMax = ts('2025-01-09');
const xTicks = xTickLabels.map(ts);
const fmtX = v => { const d=new Date(v); return d.getUTCFullYear()+'-'+String(d.getUTCMonth()+1).padStart(2,'0'); };

const ftirData = ftirDates.map((d,i)=>[ts(d), ftirVals[i]]);
const pandoraData = pandoraDates.map((d,i)=>[ts(d), pandoraLow[i], pandoraCore[i], pandoraHigh[i]]);
const usedData=[], interpData=[], relData=[];
function addDays(dates, A, B, C){
  dates.forEach((d,i)=>{
    const t=ts(d);
    A[i].forEach(v=>usedData.push([t,v]));
    B[i].forEach(v=>interpData.push([t,v]));
    C[i].forEach(v=>relData.push([t,v]));
  });
}
addDays(usedDates, ftirUsed, pandoraInterp, relDiff);
addDays(extraDates, extraFtir, extraInterp, extraRel);
const byT = (a,b)=>a[0]-b[0];
usedData.sort(byT); interpData.sort(byT); relData.sort(byT);
const line2 = (arr)=>trendDates.map((d,i)=>[ts(d),arr[i]]);

const BLUE='#1212ee', GREEN='#3d8c28', FONT='"DejaVu Sans", sans-serif', TXT='#262626';
const bg='#EAEAF2';

const chart = echarts.init(document.getElementById('c'), null, {renderer:'canvas'});
function xAxisOf(gi, showLabel){
  return {
    type:'value', gridIndex:gi, min:xMin, max:xMax, scale:true,
    axisLine:{show:false}, axisTick:{show:false, customValues:xTicks},
    splitLine:{show:true, lineStyle:{color:'#ffffff', width:1}},
    axisLabel: showLabel
      ? {show:true, customValues:xTicks, formatter:fmtX, rotate:45, align:'center', verticalAlign:'middle', margin:38, fontSize:14.5, color:TXT, fontFamily:FONT}
      : {show:false, customValues:xTicks}
  };
}
chart.setOption({
  animation:false,
  backgroundColor:'#ffffff',
  grid:[
    {left:85, right:25, top:32, height:227, show:true, backgroundColor:bg, borderWidth:0},
    {left:85, right:25, top:293, height:74, show:true, backgroundColor:bg, borderWidth:0}
  ],
  xAxis:[ xAxisOf(0,false), xAxisOf(1,true) ],
  yAxis:[
    {type:'value', gridIndex:0, min:-0.1, max:5.35,
     axisLine:{show:false}, axisTick:{show:false, customValues:yTicksTop},
     axisLabel:{customValues:yTicksTop, fontSize:15, color:TXT, fontFamily:FONT, margin:12},
     splitLine:{show:true, lineStyle:{color:'#ffffff', width:1}}},
    {type:'value', gridIndex:1, min:-79.5, max:147,
     axisLine:{show:false}, axisTick:{show:false, customValues:yTicksBottom},
     axisLabel:{customValues:yTicksBottom, fontSize:15, color:TXT, fontFamily:FONT, margin:12},
     splitLine:{show:true, lineStyle:{color:'#ffffff', width:1}}}
  ],
  legend:{
    orient:'vertical', left:92, top:37, padding:[3,6,4,15], itemGap:6,
    itemWidth:6, itemHeight:6,
    backgroundColor:'#eceef3', borderColor:'#d2d3da', borderWidth:1, borderRadius:4,
    textStyle:{fontSize:14.5, color:TXT, fontFamily:FONT, lineHeight:16,
      rich:{p:{padding:[0,0,0,19], fontSize:14.5, color:TXT, fontFamily:FONT, lineHeight:16}}},
    formatter: n => '{p|' + n + '}',
    data:[
      {name:'PANDORA (N=63067)', icon:'circle', itemStyle:{color:'#b5b5b5', borderColor:'#eceef3', borderWidth:3}},
      {name:'FTIR  (N=7200)', icon:'circle', itemStyle:{color:'#111', borderColor:'#eceef3', borderWidth:3}},
      {name:'FTIR used (N=4317)', icon:'circle', itemStyle:{color:'#ffffff', borderColor:BLUE, borderWidth:1.6}},
      {name:'PANDORA (Interpolated) (N=4317)', icon:'circle', itemStyle:{color:'#ffffff', borderColor:GREEN, borderWidth:1.6}}
    ]
  },
  graphic:[
    {type:'text', x:2, y:4.5, style:{text:'All data', font:'italic bold 20px "Liberation Sans", sans-serif', fill:'#1e6ec8', textVerticalAlign:'middle'}},
    {type:'text', x:90, y:15.5, style:{text:'#Pandora total: 152309.0', font:'13px '+FONT, fill:'#222', textVerticalAlign:'middle'}},
    {type:'text', x:90, y:25, style:{text:'#Pandora total_e: 141594.0', font:'13px '+FONT, fill:'#222', textVerticalAlign:'middle'}},
    {type:'text', x:297, y:15.5, style:{text:'#Pandora filtered: 10715.0', font:'13px '+FONT, fill:'#222', textVerticalAlign:'middle'}},
    {type:'text', x:297, y:25, style:{text:'#Pandora filtered_e: 78527.0', font:'13px '+FONT, fill:'#222', textVerticalAlign:'middle'}},
    {type:'text', x:515, y:15.5, style:{text:'#Pandora ok/total: 0.93', font:'13px '+FONT, fill:'#222', textVerticalAlign:'middle'}},
    {type:'text', x:515, y:25, style:{text:'#Pandora ok/total_e: 0.45', font:'13px '+FONT, fill:'#222', textVerticalAlign:'middle'}},
    {type:'text', x:758, y:42, style:{text:'Trend: -4.28 +/- 0.49 %/yr', font:'13px '+FONT, fill:'#2a2ae0', textAlign:'right', textVerticalAlign:'middle'}},
    {type:'text', x:758, y:57, style:{text:'Trend: -1.43 +/- 0.49 %/yr', font:'13px '+FONT, fill:GREEN, textAlign:'right', textVerticalAlign:'middle'}},
    {type:'text', x:787, y:285, style:{text:'Bias: -29.6 \u00b1 21.4', font:'14px '+FONT, fill:'#333', textAlign:'right', textVerticalAlign:'middle'}},
    {type:'text', x:26, y:145, rotation:Math.PI/2, style:{text:'Tropospheric Column', font:'16px '+FONT, fill:TXT, textAlign:'center', textVerticalAlign:'middle'}},
    {type:'text', x:46, y:145, rotation:Math.PI/2, style:{text:'[x10\u00b9\u2076 molec/cm\u00b2]', font:'16px '+FONT, fill:TXT, textAlign:'center', textVerticalAlign:'middle'}},
    {type:'text', x:26, y:330, rotation:Math.PI/2, style:{text:'(PAN - FTIR)/FTIR [%]', font:'16px '+FONT, fill:TXT, textAlign:'center', textVerticalAlign:'middle'}}
  ],
  series:[
    {name:'PANDORA (N=63067)', type:'custom', xAxisIndex:0, yAxisIndex:0, clip:true,
     data:pandoraData, encode:{x:0, y:[1,2,3]}, itemStyle:{color:'#b5b5b5'},
     renderItem:(params, api)=>{
       const t=api.value(0);
       const pC=api.coord([t, api.value(2)]), pH=api.coord([t, api.value(3)]);
       const children=[
         {type:'line', shape:{x1:pC[0], y1:pC[1], x2:pC[0], y2:pH[1]}, style:{stroke:'rgba(115,115,115,0.38)', lineWidth:1.8}}
       ];
       if (params.dataIndex === 0) {
         // dense band of the measurements: polygon low -> core through all days
         const top = pandoraData.map(r=>api.coord([r[0], r[2]]));
         const bot = pandoraData.map(r=>api.coord([r[0], r[1]])).reverse();
         children.unshift({type:'polygon', shape:{points: top.concat(bot)}, style:{fill:'rgba(125,125,125,0.32)'}});
       }
       return {type:'group', children};
     }},
    {name:'FTIR  (N=7200)', type:'scatter', xAxisIndex:0, yAxisIndex:0, data:ftirData,
     symbol:'rect', symbolSize:2.5, itemStyle:{color:'#111'}},
    {name:'FTIR used (N=4317)', type:'line', xAxisIndex:0, yAxisIndex:0, data:usedData,
     symbol:'circle', symbolSize:6, showSymbol:true,
     itemStyle:{color:'#ffffff', borderColor:BLUE, borderWidth:1.6},
     lineStyle:{color:BLUE, width:2}},
    {name:'PANDORA (Interpolated) (N=4317)', type:'line', xAxisIndex:0, yAxisIndex:0, data:interpData,
     symbol:'circle', symbolSize:6, showSymbol:true,
     itemStyle:{color:'#ffffff', borderColor:GREEN, borderWidth:1.5},
     lineStyle:{color:GREEN, width:1.5}},
    {name:'ftirTrend', type:'line', xAxisIndex:0, yAxisIndex:0, data:line2(ftirTrend),
     symbol:'none', lineStyle:{color:BLUE, width:2}},
    {name:'pandoraTrend', type:'line', xAxisIndex:0, yAxisIndex:0, data:line2(pandoraTrend),
     symbol:'none', lineStyle:{color:GREEN, width:2}},
    {name:'relDiff', type:'scatter', xAxisIndex:1, yAxisIndex:1, data:relData,
     symbol:'circle', symbolSize:6, itemStyle:{color:'rgba(0,0,0,0)', borderColor:'#151515', borderWidth:1.2}},
    {name:'biasTrend', type:'line', xAxisIndex:1, yAxisIndex:1, data:line2(biasTrend),
     symbol:'none', lineStyle:{color:'#e8321e', width:2}}
  ]
});
</script></body></html>
